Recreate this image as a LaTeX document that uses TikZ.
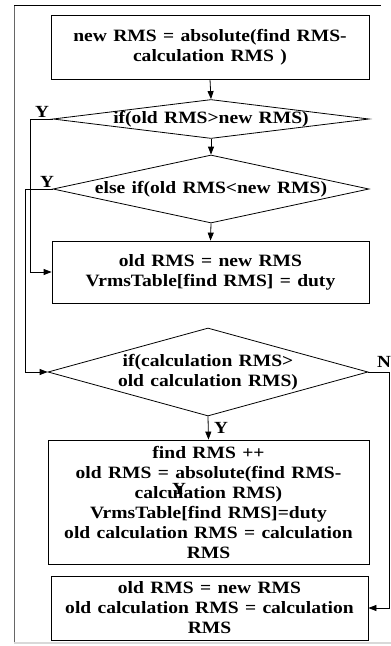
\documentclass[tikz,border=0pt]{standalone}
\usepackage{fontspec}
\setmainfont{Liberation Serif}[FakeStretch=1.13,WordSpace=1.3]
\usetikzlibrary{shapes.geometric,arrows.meta}
\begin{document}
\begin{tikzpicture}[x=1pt,y=-1pt,
  txt/.style={font=\bfseries\fontsize{17.3}{20}\selectfont, align=center, inner sep=0pt},
  procbox/.style={draw=black, line width=0.8pt, rectangle, inner sep=0pt},
  decide/.style={draw=black, line width=0.8pt, diamond, inner sep=0pt, shape aspect=6},
  conn/.style={draw=black, line width=0.8pt},
  arr/.style={conn, -{Triangle[length=8pt,width=6pt]}},
  lbl/.style={font=\bfseries\fontsize{17}{20}\selectfont, inner sep=0pt}]
\useasboundingbox (0,0) rectangle (391,646);
% frame
\draw[gray!80!black, line width=1pt] (14,5) -- (14,643);
\draw[black, line width=0.8pt] (14,5) -- (381,5);
\draw[gray!30, line width=1.2pt] (14,643) -- (391,643);
% boxes
\node[procbox, minimum width=318pt, minimum height=64pt] (b1) at (210,47) {};
\node[txt] (t1) at (b1.center) {new RMS = absolute(find RMS-\\calculation RMS )};
\node[decide, minimum width=316pt, minimum height=39pt] (d1) at (211,119) {};
\node[txt] (t2) at (d1.center) {if(old RMS>new RMS)};
\node[decide, minimum width=316pt, minimum height=68pt] (d2) at (211,189) {};
\node[txt] (t3) at (d2.center) {else if(old RMS<new RMS)};
\node[procbox, minimum width=317pt, minimum height=62pt] (b2) at (210.5,272) {};
\node[txt] (t4) at (b2.center) {old RMS = new RMS\\VrmsTable[find RMS] = duty};
\node[decide, minimum width=320pt, minimum height=88pt] (d3) at (208,372) {};
\node[txt] (t5) at (d3.center) {if(calculation RMS>\\old calculation RMS)};
\node[procbox, minimum width=321pt, minimum height=124pt] (b3) at (208.5,502) {};
\node[txt] (t6) at (b3.center) {find RMS ++\\old RMS = absolute(find RMS-\\calculation RMS)\\VrmsTable[find RMS]=duty\\old calculation RMS = calculation\\RMS};
\node[procbox, minimum width=317pt, minimum height=64pt] (b4) at (209.5,608) {};
\node[txt] (t7) at (b4.center) {old RMS = new RMS\\old calculation RMS = calculation\\RMS};
% main flow
\draw[arr] (b1.south) -- (d1.north);
\draw[arr] (d1.south) -- (d2.north);
\draw[arr] (d2.south) -- (b2.north);
\draw[arr] (d3.south) -- (b3.north);
% Y / N branches
\coordinate (c1) at (30,119);
\coordinate (c2) at (25,189);
\coordinate (c3) at (389,372);
\draw[arr] (d1.west) -- (c1) |- (b2.west);
\draw[arr] (d2.west) -- (c2) |- (d3.west);
\draw[arr] (d3.east) -- (c3) |- (b4.east);
% labels
\node[lbl] (y1) at (42,112) {Y};
\node[lbl] (y2) at (47,182) {Y};
\node[lbl] (n1) at (384,362) {N};
\node[lbl] (y3) at (221,428) {Y};
\node[lbl] (y4) at (179,489) {Y};
\end{tikzpicture}
\end{document}
